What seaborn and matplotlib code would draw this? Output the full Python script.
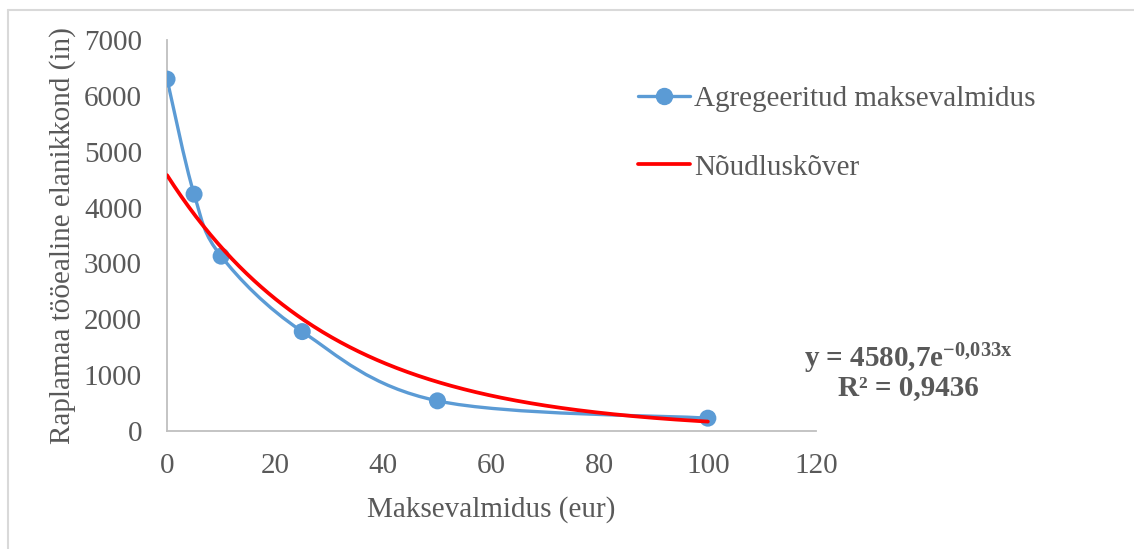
"""Raplamaa willingness-to-pay curve with exponential demand trendline."""

import numpy as np
import matplotlib
matplotlib.use("Agg")
import matplotlib.pyplot as plt
from matplotlib.path import Path
from matplotlib.patches import PathPatch
from matplotlib.lines import Line2D
import seaborn as sns

# ── data ─────────────────────────────────────────────────────────────────
price = [0, 5, 10, 25, 50, 100]                 # Maksevalmidus (eur)
population = [6300, 4240, 3130, 1780, 540, 230]  # tööealine elanikkond
trend_a = 4580.7                                 # y = a * e^(b x)
trend_b = -0.033
trend_r2 = 0.9436

series_label = "Agregeeritud maksevalmidus"
trend_label = "Nõudluskõver"
x_label = "Maksevalmidus (eur)"
y_label = "Raplamaa tööealine elanikkond (in)"
x_ticks = [0, 20, 40, 60, 80, 100, 120]
y_ticks = [0, 1000, 2000, 3000, 4000, 5000, 6000, 7000]

BLUE = "#5B9BD5"
RED = "#FF0000"
TEXT = "#595959"
SPINE = "#BFBFBF"
FS = 21


def smooth_path(x, y):
    """Excel-like smoothed line: Catmull-Rom segments as cubic Beziers."""
    pts = np.column_stack([x, y]).astype(float)
    n = len(pts)
    verts = [pts[0]]
    codes = [Path.MOVETO]
    for i in range(n - 1):
        p0 = pts[max(i - 1, 0)]
        p1 = pts[i]
        p2 = pts[i + 1]
        p3 = pts[min(i + 2, n - 1)]
        verts += [p1 + (p2 - p0) / 6, p2 - (p3 - p1) / 6, p2]
        codes += [Path.CURVE4] * 3
    return Path(verts, codes)


def main():
    sns.set_theme(style="white")
    plt.rcParams["font.family"] = ["Liberation Serif", "DejaVu Serif"]
    plt.rcParams["mathtext.fontset"] = "custom"
    plt.rcParams["mathtext.rm"] = "Liberation Serif"
    plt.rcParams["mathtext.bf"] = "Liberation Serif:bold"
    plt.rcParams["mathtext.it"] = "Liberation Serif:italic"

    fig = plt.figure(figsize=(11.34, 5.49), dpi=100)
    ax = fig.add_axes([0.1473, 0.2149, 0.7196 - 0.1473, 0.9271 - 0.2149])

    # smoothed series line + markers
    ax.add_patch(PathPatch(smooth_path(price, population), facecolor="none",
                           edgecolor=BLUE, lw=2.4, zorder=2))
    sns.scatterplot(x=price, y=population, color=BLUE, s=150,
                    edgecolor="none", ax=ax, zorder=3)

    # exponential trendline from the displayed coefficients
    xt = np.linspace(min(price), max(price), 300)
    sns.lineplot(x=xt, y=trend_a * np.exp(trend_b * xt), color=RED, lw=2.7,
                 ax=ax, zorder=4)

    ax.set_xlim(0, 120)
    ax.set_ylim(0, 7000)
    ax.set_xticks(x_ticks)
    ax.set_yticks(y_ticks)
    ax.tick_params(axis="both", length=0, labelsize=FS, labelcolor=TEXT)
    ax.tick_params(axis="y", pad=18)
    ax.tick_params(axis="x", pad=16)
    for side in ("top", "right"):
        ax.spines[side].set_visible(False)
    for side in ("left", "bottom"):
        ax.spines[side].set_color(SPINE)
        ax.spines[side].set_linewidth(1.3)

    ax.set_xlabel(x_label, fontsize=FS, color=TEXT, labelpad=12)
    ax.set_ylabel(y_label, fontsize=FS, color=TEXT, labelpad=6)

    # legend
    handles = [
        Line2D([], [], color=BLUE, lw=2.4, marker="o", markersize=11.5),
        Line2D([], [], color=RED, lw=2.7),
    ]
    fig.legend(handles, [series_label, trend_label], loc="upper left",
               bbox_to_anchor=(0.5495, 0.871), frameon=False, fontsize=FS,
               labelcolor=TEXT, handlelength=1.8, handletextpad=0.12,
               labelspacing=1.45, borderpad=0)

    # trendline equation
    fig.text(0.801, 0.346, "y = 4580,7e" + r"$^{\mathbf{-0{,}033x}}$",
             fontsize=FS, fontweight="bold", color=TEXT, ha="center",
             va="center")
    fig.text(0.801, 0.294, f"R² = {trend_r2:.4f}".replace(".", ","),
             fontsize=FS, fontweight="bold", color=TEXT, ha="center",
             va="center")

    # chart-area border (only left and top edges visible in the crop)
    fig.add_artist(Line2D([8 / 1134, 8 / 1134], [0, 1 - 10 / 549],
                          transform=fig.transFigure, color="#D9D9D9", lw=1.5))
    fig.add_artist(Line2D([8 / 1134, 1], [1 - 10 / 549, 1 - 10 / 549],
                          transform=fig.transFigure, color="#D9D9D9", lw=1.5))

    fig.savefig("out.png", dpi=100, facecolor="white")
    plt.close(fig)


if __name__ == "__main__":
    main()
